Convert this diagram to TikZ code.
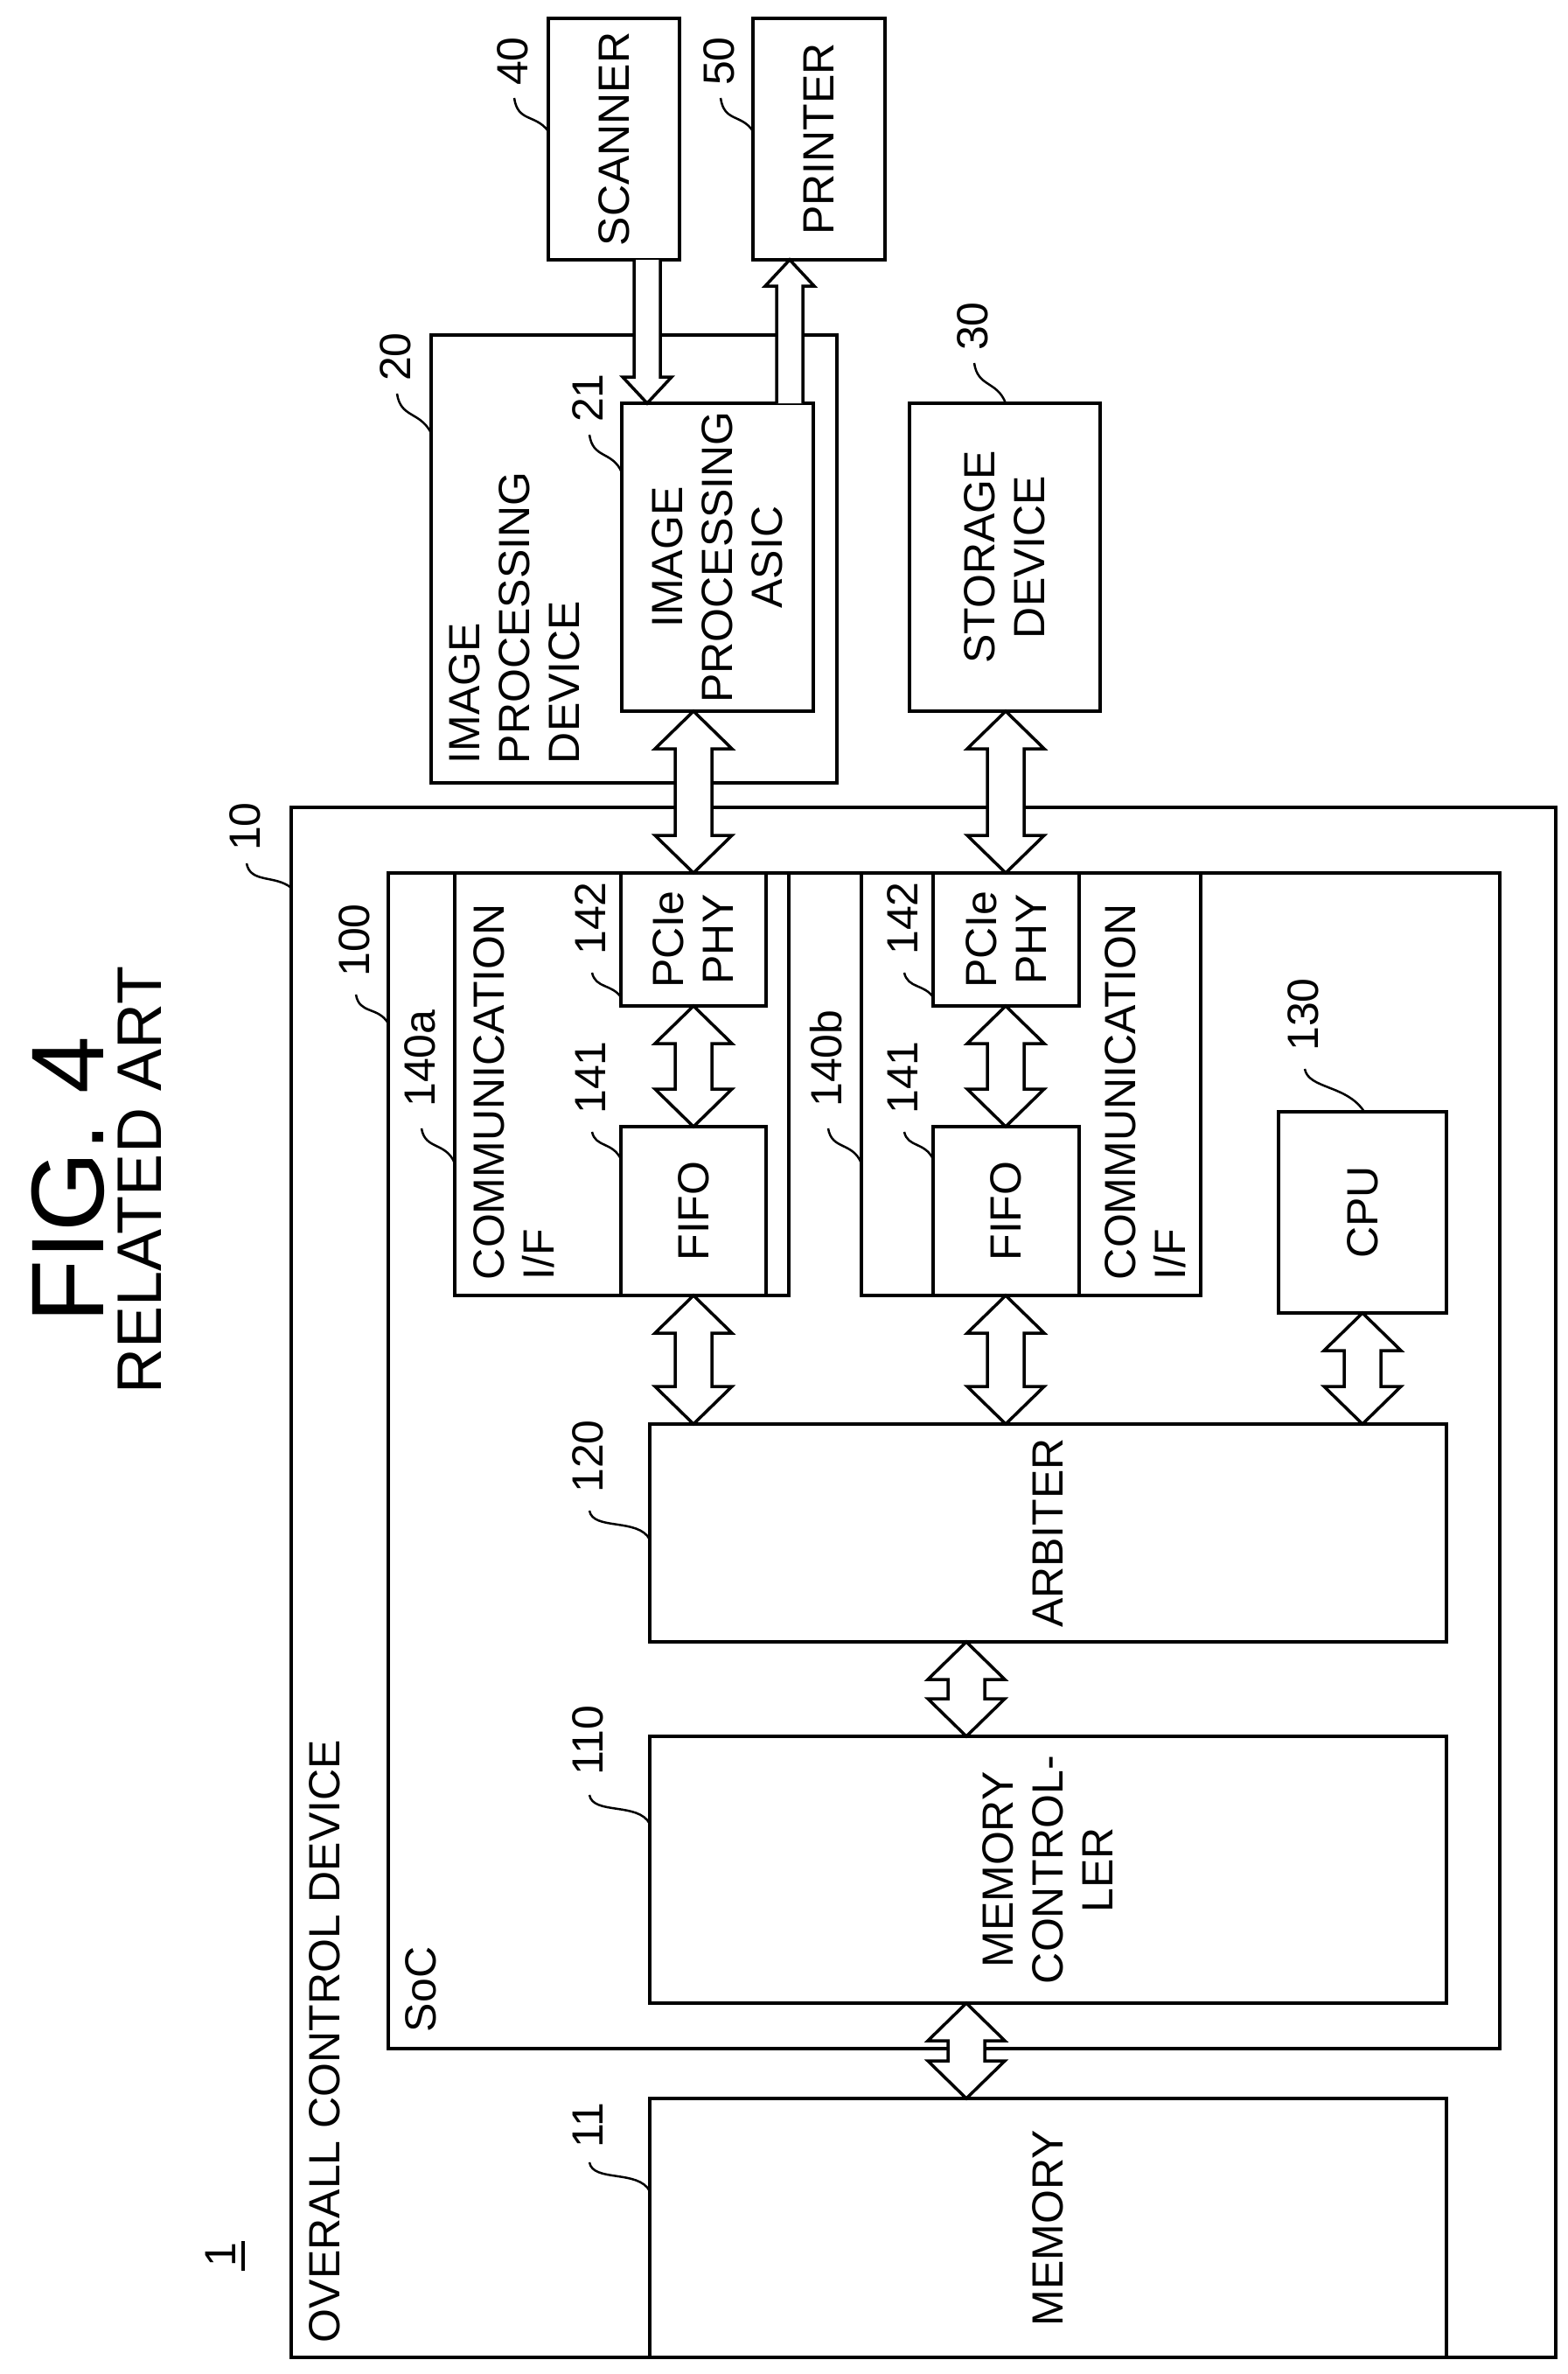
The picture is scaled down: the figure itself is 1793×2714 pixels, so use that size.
\documentclass[tikz,border=0pt]{standalone}
\usepackage{fontspec}
\setmainfont{Liberation Sans}
\begin{document}
\begin{tikzpicture}[x=1pt,y=-1pt,line width=4pt,
  box/.style={draw,line width=4pt},
  txt/.style={rotate=90,align=center,font=\fontsize{50}{57}\selectfont,inner sep=0},
  ltxt/.style={rotate=90,align=left,font=\fontsize{50}{57}\selectfont,inner sep=0,anchor=north west},
  lab/.style={rotate=90,font=\fontsize{50}{57}\selectfont,inner sep=0},
  lead/.style={line width=2.5pt}]
\useasboundingbox (0,0) rectangle (1793,2714);
\newcommand\dbl[4]{% x, ytop, ybot, scale
  \draw[fill=white,line width=3.5pt] (#1,#2) -- ({#1+44*#4},{#2+43*#4}) -- ({#1+21*#4},{#2+43*#4}) -- ({#1+21*#4},{#3-43*#4}) -- ({#1+44*#4},{#3-43*#4}) -- (#1,#3) -- ({#1-44*#4},{#3-43*#4}) -- ({#1-21*#4},{#3-43*#4}) -- ({#1-21*#4},{#2+43*#4}) -- ({#1-44*#4},{#2+43*#4}) -- cycle;}
% title
\node[rotate=90,font=\fontsize{118}{120}\selectfont] (fig) at (78,1349) {FIG. 4};
\node[rotate=90,font=\fontsize{72}{80}\selectfont] (rel) at (160,1349) {RELATED ART};
\node[lab] (l1) at (252,2578) {1};
\draw[line width=4pt] (278,2562) -- (278,2596);
% boxes
\draw[box] (627,21) rectangle (777,297) node[midway,txt] (scan) {SCANNER};
\draw[box] (861,21) rectangle (1012,297) node[midway,txt] (prn) {PRINTER};
\draw[box] (493,383) rectangle (957,895);
\node[ltxt] (ipd) at (512,875) {IMAGE\\PROCESSING\\DEVICE};
\draw[box] (711,461) rectangle (930,813) node[midway,txt] (asic) {IMAGE\\PROCESSING\\ASIC};
\draw[box] (1040,461) rectangle (1258,813) node[midway,txt] (stor) {STORAGE\\DEVICE};
\draw[box] (333,923) rectangle (1779,2695);
\node[ltxt] (ocd) at (352,2680) {OVERALL CONTROL DEVICE};
\draw[box] (444,998) rectangle (1715,2342);
\node[ltxt] (soc) at (462,2325) {SoC};
% comm a
\draw[box] (520,998) rectangle (902,1481);
\node[ltxt] (cia) at (540,1465) {COMMUNICATION\\I/F};
\draw[box] (710,998) rectangle (876,1150) node[midway,txt] (phya) {PCIe\\PHY};
\draw[box] (710,1288) rectangle (876,1481) node[midway,txt] (fifoa) {FIFO};
% comm b
\draw[box] (985,998) rectangle (1373,1481);
\draw[box] (1067,998) rectangle (1234,1150) node[midway,txt] (phyb) {PCIe\\PHY};
\draw[box] (1067,1288) rectangle (1234,1481) node[midway,txt] (fifob) {FIFO};
\node[ltxt] (cib) at (1262,1465) {COMMUNICATION\\I/F};
\draw[box] (1462,1271) rectangle (1654,1501) node[midway,txt] (cpu) {CPU};
\draw[box] (743,1628) rectangle (1654,1877) node[midway,txt] (arb) {ARBITER};
\draw[box] (743,1985) rectangle (1654,2290) node[midway,txt] (mc) {MEMORY\\CONTROL-\\LER};
\draw[box] (743,2399) rectangle (1654,2695) node[midway,txt] (mem) {MEMORY};
% arrows
\draw[fill=white,line width=3.5pt] (725,297) -- (725,431) -- (712,431) -- (740,461) -- (768,431) -- (755,431) -- (755,297);
\draw[fill=white,line width=3.5pt] (888,461) -- (888,327) -- (875,327) -- (903,297) -- (931,327) -- (918,327) -- (918,461);
\dbl{793}{813}{998}{1}
\dbl{1150}{813}{998}{1}
\dbl{793}{1150}{1288}{1}
\dbl{1150}{1150}{1288}{1}
\dbl{793}{1481}{1628}{1}
\dbl{1150}{1481}{1628}{1}
\dbl{1558}{1501}{1628}{1}
\dbl{1105}{1877}{1985}{1}
\dbl{1105}{2290}{2399}{1}
% labels
\node[lab] (n40) at (586,70) {40};
\draw[lead] (588,112) .. controls (592,140) and (612,130) .. (627,150);
\node[lab] (n50) at (822,70) {50};
\draw[lead] (824,112) .. controls (828,140) and (848,130) .. (861,150);
\node[lab] (n20) at (452,408) {20};
\draw[lead] (454,450) .. controls (458,478) and (480,470) .. (493,495);
\node[lab] (n21) at (672,455) {21};
\draw[lead] (674,497) .. controls (678,525) and (700,515) .. (711,540);
\node[lab] (n30) at (1112,373) {30};
\draw[lead] (1114,415) .. controls (1118,443) and (1140,435) .. (1150,461);
\node[lab] (n10) at (280,945) {10};
\draw[lead] (282,987) .. controls (286,1010) and (315,1000) .. (333,1015);
\node[lab] (n100) at (405,1075) {100};
\draw[lead] (407,1137) .. controls (411,1160) and (432,1150) .. (444,1170);
\node[lab] (n140a) at (480,1210) {140a};
\draw[lead] (482,1290) .. controls (486,1315) and (510,1305) .. (520,1330);
\node[lab] (n142a) at (675,1050) {142};
\draw[lead] (677,1112) .. controls (681,1130) and (700,1125) .. (710,1140);
\node[lab] (n141a) at (675,1232) {141};
\draw[lead] (677,1294) .. controls (681,1312) and (700,1305) .. (710,1325);
\node[lab] (n140b) at (945,1210) {140b};
\draw[lead] (947,1290) .. controls (951,1315) and (975,1305) .. (985,1330);
\node[lab] (n142b) at (1032,1050) {142};
\draw[lead] (1034,1112) .. controls (1038,1130) and (1057,1125) .. (1067,1140);
\node[lab] (n141b) at (1032,1232) {141};
\draw[lead] (1034,1294) .. controls (1038,1312) and (1057,1305) .. (1067,1325);
\node[lab] (n130) at (1490,1160) {130};
\draw[lead] (1492,1222) .. controls (1496,1245) and (1540,1240) .. (1560,1271);
\node[lab] (n120) at (672,1665) {120};
\draw[lead] (674,1727) .. controls (678,1750) and (730,1735) .. (743,1760);
\node[lab] (n110) at (672,1990) {110};
\draw[lead] (674,2052) .. controls (678,2075) and (730,2060) .. (743,2085);
\node[lab] (n11) at (672,2430) {11};
\draw[lead] (674,2472) .. controls (678,2495) and (730,2480) .. (743,2505);
\end{tikzpicture}
\end{document}
